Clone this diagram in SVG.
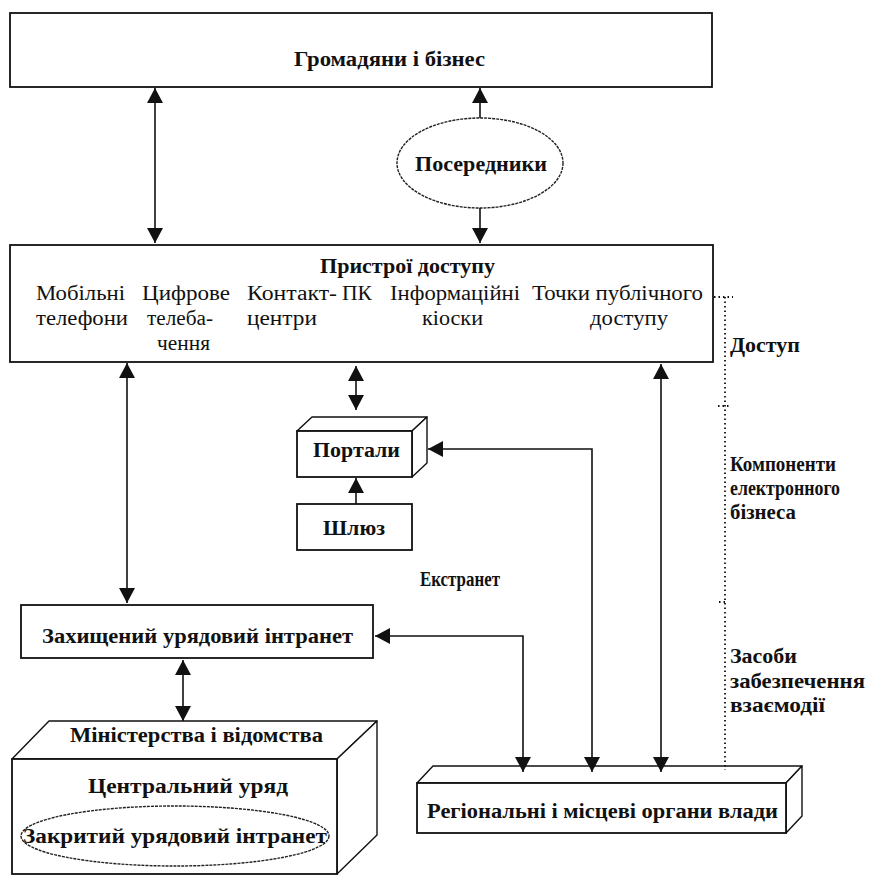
<svg xmlns="http://www.w3.org/2000/svg" width="869" height="876" viewBox="0 0 869 876">
  <style>
    .box { fill: #fff; stroke: #111; stroke-width: 1.8; }
    .face { fill: #fff; stroke: #111; stroke-width: 1.4; stroke-linejoin: round; }
    .oval { fill: #fff; stroke: #222; stroke-width: 1.4; stroke-dasharray: 3 1; }
    .b { font-family: "Liberation Serif", "Times New Roman", serif; font-weight: bold; font-size: 20px; fill: #111; }
    .r { font-family: "Liberation Serif", "Times New Roman", serif; font-size: 20px; fill: #111; }
    .link { fill: none; stroke: #111; stroke-width: 1.6; }
    .dots { fill: none; stroke: #111; stroke-width: 1.8; stroke-dasharray: 1.5 3; }
  </style>
  <defs>
    <marker id="arrow" viewBox="0 0 15 16" refX="15" refY="8" markerWidth="15" markerHeight="16" markerUnits="userSpaceOnUse" orient="auto-start-reverse">
      <path d="M0,0 L15,8 L0,16 z" fill="#111"/>
    </marker>
  </defs>
  <rect width="869" height="876" fill="#fff"/>

  <!-- Citizens and business -->
  <g id="citizens">
    <rect class="box" x="10" y="13" width="702" height="74"/>
    <text class="b" x="294" y="66" textLength="191" lengthAdjust="spacingAndGlyphs">Громадяни і бізнес</text>
  </g>

  <!-- Intermediaries -->
  <g id="intermediaries">
    <ellipse class="oval" cx="480" cy="163" rx="83" ry="45"/>
    <text class="b" x="415" y="171" textLength="132" lengthAdjust="spacingAndGlyphs">Посередники</text>
  </g>

  <!-- Access devices -->
  <g id="devices">
    <rect class="box" x="10" y="245" width="703" height="117"/>
    <text class="b" x="320" y="273" textLength="175" lengthAdjust="spacingAndGlyphs">Пристрої доступу</text>
    <text class="r" x="36" y="300" textLength="89" lengthAdjust="spacingAndGlyphs">Мобільні</text>
    <text class="r" x="36" y="325" textLength="92" lengthAdjust="spacingAndGlyphs">телефони</text>
    <text class="r" x="142" y="300" textLength="88" lengthAdjust="spacingAndGlyphs">Цифрове</text>
    <text class="r" x="147" y="325" textLength="66" lengthAdjust="spacingAndGlyphs">телеба-</text>
    <text class="r" x="157" y="350" textLength="53" lengthAdjust="spacingAndGlyphs">чення</text>
    <text class="r" x="247" y="300" textLength="90" lengthAdjust="spacingAndGlyphs">Контакт-</text>
    <text class="r" x="247" y="325" textLength="70" lengthAdjust="spacingAndGlyphs">центри</text>
    <text class="r" x="342" y="300" textLength="30" lengthAdjust="spacingAndGlyphs">ПК</text>
    <text class="r" x="390" y="300" textLength="130" lengthAdjust="spacingAndGlyphs">Інформаційні</text>
    <text class="r" x="422" y="325" textLength="61" lengthAdjust="spacingAndGlyphs">кіоски</text>
    <text class="r" x="532" y="300" textLength="171" lengthAdjust="spacingAndGlyphs">Точки публічного</text>
    <text class="r" x="590" y="325" textLength="78" lengthAdjust="spacingAndGlyphs">доступу</text>
  </g>

  <!-- Portals (3D box) -->
  <g id="portals">
    <polygon class="face" points="297,431 312,417 427,417 412,431"/>
    <polygon class="face" points="412,431 427,417 427,463 412,477"/>
    <rect class="box" x="297" y="431" width="115" height="46"/>
    <text class="b" x="313" y="457" textLength="87" lengthAdjust="spacingAndGlyphs">Портали</text>
  </g>

  <!-- Gateway -->
  <g id="gateway">
    <rect class="box" x="297" y="504" width="115" height="46"/>
    <text class="b" x="323" y="535" textLength="62" lengthAdjust="spacingAndGlyphs">Шлюз</text>
  </g>

  <!-- Extranet label -->
  <g id="extranet">
    <text class="b" x="420" y="586" textLength="80" lengthAdjust="spacingAndGlyphs">Екстранет</text>
  </g>

  <!-- Secure government intranet -->
  <g id="secure-intranet">
    <rect class="box" x="21" y="605" width="352" height="53"/>
    <text class="b" x="42" y="643" textLength="311" lengthAdjust="spacingAndGlyphs">Захищений урядовий інтранет</text>
  </g>

  <!-- Central government (3D block) -->
  <g id="central-government">
    <polygon class="face" points="12,759 49,721 377,721 337,759"/>
    <polygon class="face" points="337,759 377,721 377,835 337,874"/>
    <rect class="box" x="12" y="759" width="325" height="115"/>
    <text class="b" x="70" y="742" textLength="253" lengthAdjust="spacingAndGlyphs">Міністерства і відомства</text>
    <text class="b" x="88" y="793" textLength="200" lengthAdjust="spacingAndGlyphs">Центральний уряд</text>
    <ellipse class="oval" cx="175" cy="836" rx="154" ry="30"/>
    <text class="b" x="23" y="843" textLength="304" lengthAdjust="spacingAndGlyphs">Закритий урядовий інтранет</text>
  </g>

  <!-- Regional and local authorities (3D block) -->
  <g id="regional">
    <polygon class="face" points="417,783 433,766 802,766 786,783"/>
    <polygon class="face" points="786,783 802,766 802,816 786,833"/>
    <rect class="box" x="417" y="783" width="369" height="50"/>
    <text class="b" x="427" y="818" textLength="351" lengthAdjust="spacingAndGlyphs">Регіональні і місцеві органи влади</text>
  </g>

  <!-- Layer legend on the right -->
  <g id="layers">
    <path class="dots" d="M714,297 H733 M725,297 V770 M718,406 H729 M719,602 H725"/>
    <text class="b" x="730" y="352" textLength="70" lengthAdjust="spacingAndGlyphs">Доступ</text>
    <text class="b" x="730" y="471" textLength="106" lengthAdjust="spacingAndGlyphs">Компоненти</text>
    <text class="b" x="730" y="495" textLength="110" lengthAdjust="spacingAndGlyphs">електронного</text>
    <text class="b" x="730" y="519" textLength="66" lengthAdjust="spacingAndGlyphs">бізнеса</text>
    <text class="b" x="730" y="663" textLength="67" lengthAdjust="spacingAndGlyphs">Засоби</text>
    <text class="b" x="730" y="688" textLength="135" lengthAdjust="spacingAndGlyphs">забезпечення</text>
    <text class="b" x="730" y="712" textLength="95" lengthAdjust="spacingAndGlyphs">взаємодії</text>
  </g>

  <!-- Connectors -->
  <g id="connectors">
    <path class="link" d="M155,88 V243" marker-start="url(#arrow)" marker-end="url(#arrow)"/>
    <path class="link" d="M480,118 V88" marker-end="url(#arrow)"/>
    <path class="link" d="M480,208 V243" marker-end="url(#arrow)"/>
    <path class="link" d="M127,363 V603" marker-start="url(#arrow)" marker-end="url(#arrow)"/>
    <path class="link" d="M356,366 V410" marker-start="url(#arrow)" marker-end="url(#arrow)"/>
    <path class="link" d="M356,504 V478" marker-end="url(#arrow)"/>
    <path class="link" d="M375,636 H523 V772" marker-start="url(#arrow)" marker-end="url(#arrow)"/>
    <path class="link" d="M428,449 H592 V772" marker-start="url(#arrow)" marker-end="url(#arrow)"/>
    <path class="link" d="M661,364 V772" marker-start="url(#arrow)" marker-end="url(#arrow)"/>
    <path class="link" d="M183,660 V721" marker-start="url(#arrow)" marker-end="url(#arrow)"/>
  </g>
</svg>
